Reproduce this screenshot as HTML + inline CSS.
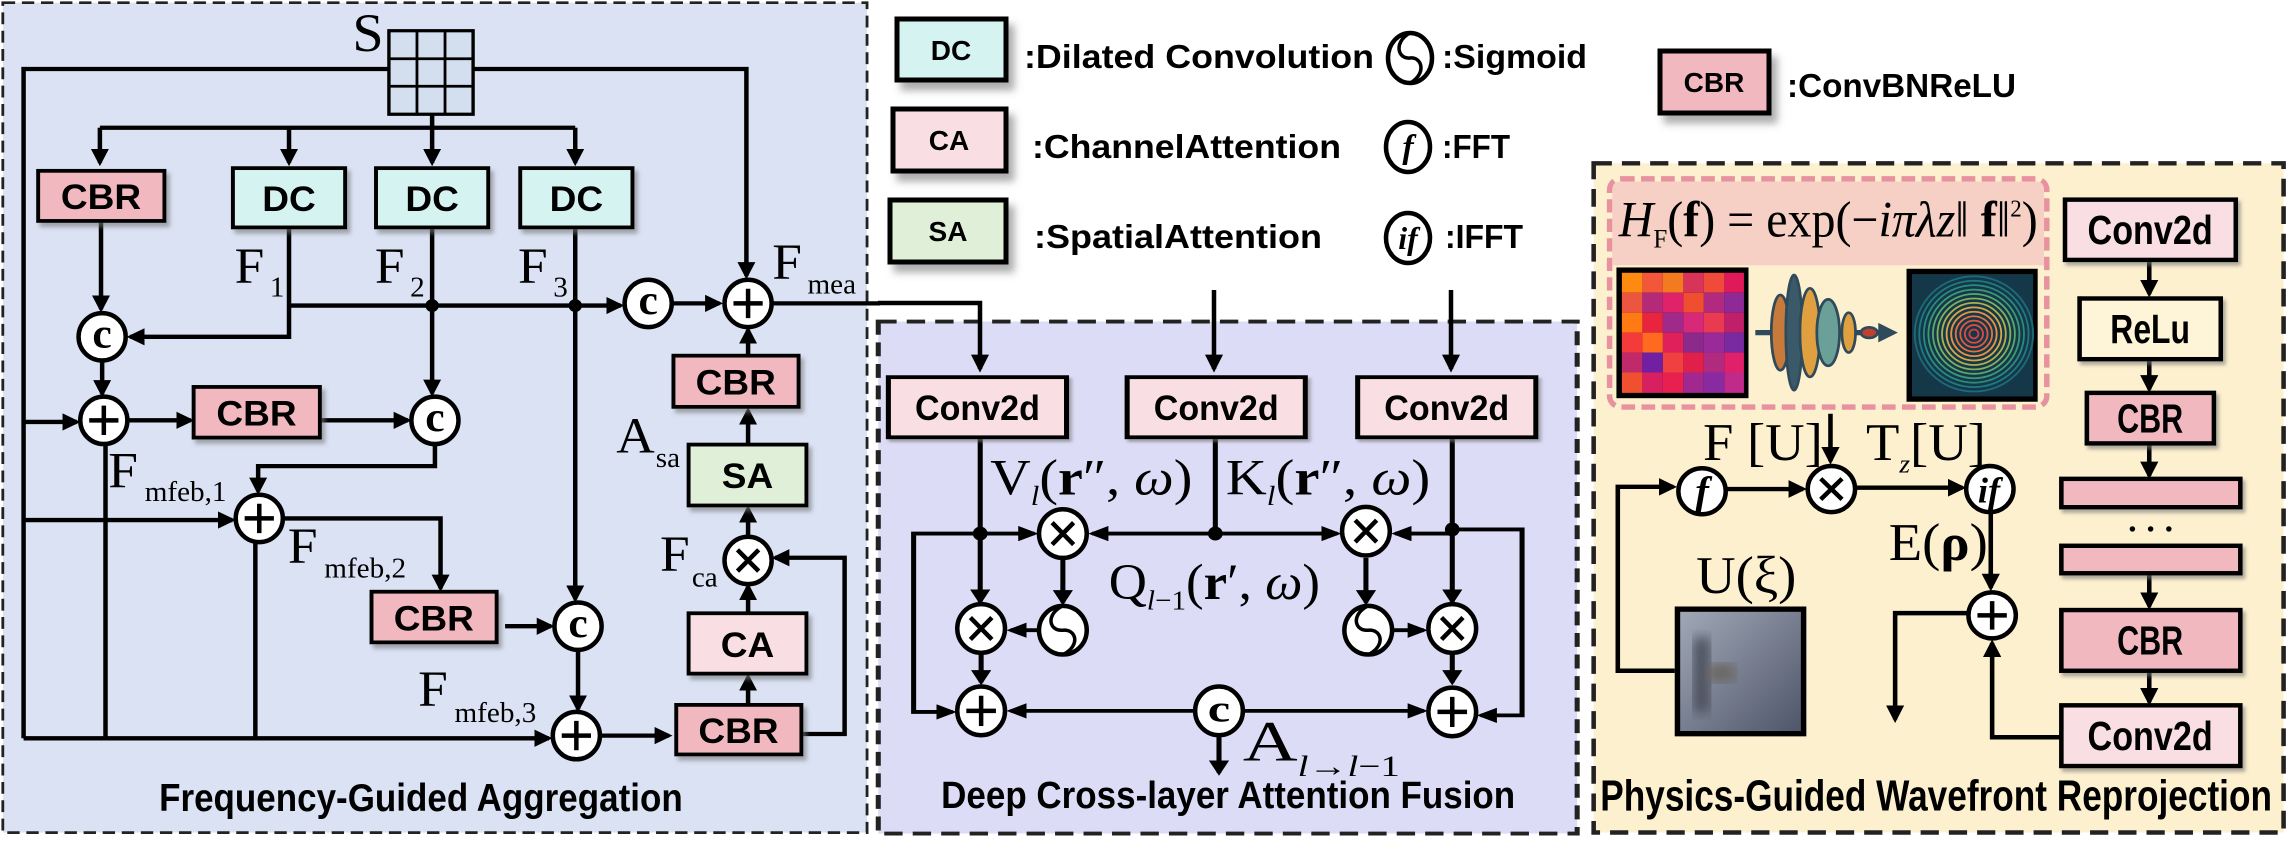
<!DOCTYPE html>
<html><head><meta charset="utf-8"><style>
html,body{margin:0;padding:0;background:#fff;}
svg{display:block;}
.b{font-family:"Liberation Sans",sans-serif;font-weight:bold;}
.s{font-family:"Liberation Serif",serif;}
</style></head><body>
<svg width="2294" height="845" viewBox="0 0 2294 845" xmlns="http://www.w3.org/2000/svg">
<defs>
<marker id="a" viewBox="0 0 10 10" refX="8" refY="5" markerWidth="4" markerHeight="4" orient="auto"><path d="M0,0L10,5L0,10z"/></marker>
<filter id="sh" x="-10%" y="-10%" width="130%" height="140%"><feDropShadow dx="6" dy="8" stdDeviation="4" flood-color="#777" flood-opacity="0.6"/></filter>
<filter id="bl"><feGaussianBlur stdDeviation="14"/></filter>
<g id="C"><circle r="1" fill="#fff" stroke="#000" stroke-width="4.5" vector-effect="non-scaling-stroke"/></g>
<g id="P"><circle r="1" fill="#fff" stroke="#000" stroke-width="4.5" vector-effect="non-scaling-stroke"/><path d="M-.62,0H.62M0,-.62V.62" stroke="#000" stroke-width="4.5" vector-effect="non-scaling-stroke"/></g>
<g id="X"><circle r="1" fill="#fff" stroke="#000" stroke-width="4.5" vector-effect="non-scaling-stroke"/><path d="M-.45,-.45L.45,.45M.45,-.45L-.45,.45" stroke="#000" stroke-width="4.5" vector-effect="non-scaling-stroke"/></g>
<g id="G"><circle r="1" fill="#fff" stroke="#000" stroke-width="4.5" vector-effect="non-scaling-stroke"/><path d="M-0.05,-0.98C-0.75,-0.6 -0.55,0.05 0,0 C0.55,-0.05 0.75,0.6 0.05,0.98" fill="none" stroke="#000" stroke-width="3.5" vector-effect="non-scaling-stroke"/></g>
</defs>

<!-- ================= PANEL 1 ================= -->
<g transform="scale(0.5612,0.5389)">
<rect x="5" y="5" width="1540" height="1540" fill="#dae2f4" stroke="#222" stroke-width="5" stroke-dasharray="22 12"/>
<text class="s" x="628" y="95" font-size="100">S</text>
<rect x="693" y="57" width="150" height="155" fill="#d3deee" stroke="#000" stroke-width="6"/>
<path d="M743,57V212M793,57V212M693,109H843M693,160H843" stroke="#000" stroke-width="5"/>
<g fill="none" stroke="#000" stroke-width="8">
<path d="M693,128H42V1370"/>
<path d="M843,128H1330V512" marker-end="url(#a)"/>
<path d="M770,212V237M178,237H1025"/>
<path d="M178,237V302" marker-end="url(#a)"/>
<path d="M515,237V302" marker-end="url(#a)"/>
<path d="M770,237V302" marker-end="url(#a)"/>
<path d="M1025,237V302" marker-end="url(#a)"/>
<path d="M515,422V625H232" marker-end="url(#a)"/>
<path d="M515,567H1106" marker-end="url(#a)"/>
<path d="M770,422V730" marker-end="url(#a)"/>
<path d="M1025,422V1112" marker-end="url(#a)"/>
<path d="M180,410V574" marker-end="url(#a)"/>
<path d="M182,669V731" marker-end="url(#a)"/>
<path d="M42,783H137" marker-end="url(#a)"/>
<path d="M228,780H340" marker-end="url(#a)"/>
<path d="M570,780H727" marker-end="url(#a)"/>
<path d="M775,824V865H460V912" marker-end="url(#a)"/>
<path d="M188,822V1370"/>
<path d="M42,965H414" marker-end="url(#a)"/>
<path d="M505,962H785V1092" marker-end="url(#a)"/>
<path d="M455,1005V1370"/>
<path d="M42,1370H978" marker-end="url(#a)"/>
<path d="M900,1162H982" marker-end="url(#a)"/>
<path d="M1030,1206V1316" marker-end="url(#a)"/>
<path d="M1070,1365H1192" marker-end="url(#a)"/>
<path d="M1428,1362H1505V1035H1381" marker-end="url(#a)"/>
<path d="M1333,1308V1256" marker-end="url(#a)"/>
<path d="M1333,1138V1088" marker-end="url(#a)"/>
<path d="M1333,995V944" marker-end="url(#a)"/>
<path d="M1333,825V762" marker-end="url(#a)"/>
<path d="M1333,660V612" marker-end="url(#a)"/>
<path d="M1198,563H1282" marker-end="url(#a)"/>
<path d="M1375,563H1568"/>
</g>
<circle cx="770" cy="567" r="12"/><circle cx="1025" cy="567" r="12"/>
<g stroke="#000" stroke-width="7" filter="url(#sh)">
<rect x="68" y="317" width="225" height="93" fill="#f2b8c0"/>
<rect x="415" y="312" width="200" height="110" fill="#d5f3f1"/>
<rect x="670" y="312" width="200" height="110" fill="#d5f3f1"/>
<rect x="927" y="312" width="200" height="110" fill="#d5f3f1"/>
<rect x="345" y="718" width="225" height="94" fill="#f2b8c0"/>
<rect x="662" y="1098" width="223" height="94" fill="#f2b8c0"/>
<rect x="1205" y="1308" width="223" height="92" fill="#f2b8c0"/>
<rect x="1227" y="1138" width="210" height="112" fill="#f9dfe3"/>
<rect x="1227" y="825" width="210" height="113" fill="#e0efd8"/>
<rect x="1200" y="660" width="223" height="95" fill="#f2b8c0"/>
</g>
<g class="b" font-size="66" text-anchor="middle">
<text x="180" y="388">CBR</text>
<text x="515" y="392">DC</text><text x="770" y="392">DC</text><text x="1027" y="392">DC</text>
<text x="457" y="790">CBR</text>
<text x="773" y="1170">CBR</text>
<text x="1316" y="1379">CBR</text>
<text x="1332" y="1219">CA</text>
<text x="1332" y="906">SA</text>
<text x="1311" y="732">CBR</text>
<text x="750" y="1505" font-size="72" textLength="933" lengthAdjust="spacingAndGlyphs">Frequency-Guided Aggregation</text>
</g>
<use href="#C" transform="translate(182,625) scale(42,44)"/>
<use href="#P" transform="translate(185,780) scale(42,44)"/>
<use href="#C" transform="translate(775,780) scale(42,44)"/>
<use href="#P" transform="translate(462,962) scale(42,44)"/>
<use href="#C" transform="translate(1030,1162) scale(42,44)"/>
<use href="#P" transform="translate(1027,1365) scale(42,44)"/>
<use href="#C" transform="translate(1155,563) scale(42,44)"/>
<use href="#P" transform="translate(1333,563) scale(42,44)"/>
<use href="#X" transform="translate(1333,1040) scale(42,44)"/>
<g class="s" font-weight="bold" font-size="78" text-anchor="middle">
<text x="182" y="645">c</text><text x="775" y="800">c</text><text x="1030" y="1182">c</text><text x="1155" y="583">c</text>
</g>
<g class="s" font-size="95">
<text x="418" y="525">F<tspan font-size="52" dx="10" dy="25">1</tspan></text>
<text x="668" y="525">F<tspan font-size="52" dx="10" dy="25">2</tspan></text>
<text x="923" y="525">F<tspan font-size="52" dx="10" dy="25">3</tspan></text>
<text x="1376" y="518">F<tspan font-size="52" dx="10" dy="27">mea</tspan></text>
<text x="193" y="905">F<tspan font-size="52" dx="12" dy="25">mfeb,1</tspan></text>
<text x="513" y="1045">F<tspan font-size="52" dx="12" dy="27">mfeb,2</tspan></text>
<text x="745" y="1310">F<tspan font-size="52" dx="12" dy="30">mfeb,3</tspan></text>
<text x="1098" y="840">A<tspan font-size="52" dx="2" dy="27">sa</tspan></text>
<text x="1176" y="1060">F<tspan font-size="52" dx="4" dy="28">ca</tspan></text>
</g>
</g>

<!-- ================= LEGEND ================= -->
<g stroke="#000" stroke-width="5" filter="url(#sh)">
<rect x="897" y="19" width="109" height="61" fill="#d5f3f1"/>
<rect x="893" y="109" width="113" height="62" fill="#f9dfe3"/>
<rect x="890" y="200" width="116" height="62" fill="#e0efd8"/>
<rect x="1660" y="51" width="109" height="62" fill="#f2b8c0"/>
</g>
<g class="b" font-size="28" text-anchor="middle">
<text x="951" y="60">DC</text><text x="949" y="150">CA</text><text x="948" y="241">SA</text><text x="1714" y="92">CBR</text>
</g>
<g class="b" font-size="33">
<text x="1024" y="68" textLength="350" lengthAdjust="spacingAndGlyphs">:Dilated Convolution</text>
<text x="1032" y="158" textLength="309" lengthAdjust="spacingAndGlyphs">:ChannelAttention</text>
<text x="1034" y="248" textLength="288" lengthAdjust="spacingAndGlyphs">:SpatialAttention</text>
<text x="1442" y="68" textLength="145" lengthAdjust="spacingAndGlyphs">:Sigmoid</text>
<text x="1442" y="158" textLength="68" lengthAdjust="spacingAndGlyphs">:FFT</text>
<text x="1445" y="248" textLength="78" lengthAdjust="spacingAndGlyphs">:IFFT</text>
<text x="1787" y="97" textLength="229" lengthAdjust="spacingAndGlyphs">:ConvBNReLU</text>
</g>
<use href="#G" transform="translate(1410,58) scale(22,25)"/>
<use href="#C" transform="translate(1408,147) scale(22,25)"/>
<use href="#C" transform="translate(1408,238) scale(22,25)"/>
<text class="s" x="1408" y="158" font-size="34" font-style="italic" font-weight="bold" text-anchor="middle">f</text>
<text class="s" x="1408" y="249" font-size="32" font-style="italic" font-weight="bold" text-anchor="middle">if</text>

<!-- ================= PANEL 2 ================= -->
<g transform="translate(870,300) scale(0.4592,0.3476)">
<rect x="18" y="62" width="1522" height="1473" fill="#dcdcf6" stroke="#222" stroke-width="11" stroke-dasharray="40 22"/>
<g fill="none" stroke="#000" stroke-width="11">
<path d="M240,395V868" marker-end="url(#a)"/>
<path d="M240,672H95V1185H180" marker-end="url(#a)"/>
<path d="M240,672H358" marker-end="url(#a)"/>
<path d="M752,395V672"/>
<path d="M752,672H484" marker-end="url(#a)"/>
<path d="M752,672H1018" marker-end="url(#a)"/>
<path d="M1268,395V868" marker-end="url(#a)"/>
<path d="M1268,660H1420V1195H1330" marker-end="url(#a)"/>
<path d="M1268,672H1144" marker-end="url(#a)"/>
<path d="M420,742V870" marker-end="url(#a)"/>
<path d="M368,950H306" marker-end="url(#a)"/>
<path d="M1080,742V870" marker-end="url(#a)"/>
<path d="M1137,950H1206" marker-end="url(#a)"/>
<path d="M242,1015V1100" marker-end="url(#a)"/>
<path d="M1268,1015V1100" marker-end="url(#a)"/>
<path d="M708,1182H306" marker-end="url(#a)"/>
<path d="M812,1182H1206" marker-end="url(#a)"/>
<path d="M760,1252V1360" marker-end="url(#a)"/>
</g>
<ellipse cx="240" cy="672" rx="16" ry="20"/><ellipse cx="752" cy="672" rx="16" ry="20"/><ellipse cx="1268" cy="660" rx="16" ry="20"/>
<g stroke="#000" stroke-width="11" fill="#f9dfe3" filter="url(#sh)">
<rect x="40" y="222" width="388" height="173"/>
<rect x="560" y="222" width="388" height="173"/>
<rect x="1062" y="222" width="388" height="173"/>
</g>
<g class="b" font-size="100" text-anchor="middle">
<text x="234" y="345" textLength="272" lengthAdjust="spacingAndGlyphs">Conv2d</text>
<text x="754" y="345" textLength="272" lengthAdjust="spacingAndGlyphs">Conv2d</text>
<text x="1256" y="345" textLength="272" lengthAdjust="spacingAndGlyphs">Conv2d</text>
<text x="780" y="1462" font-size="108" textLength="1250" lengthAdjust="spacingAndGlyphs">Deep Cross-layer Attention Fusion</text>
</g>
<use href="#X" transform="translate(420,672) scale(52,70)"/>
<use href="#X" transform="translate(1080,665) scale(52,70)"/>
<use href="#G" transform="translate(420,950) scale(52,70)"/>
<use href="#G" transform="translate(1085,950) scale(52,70)"/>
<use href="#X" transform="translate(242,945) scale(52,70)"/>
<use href="#X" transform="translate(1268,945) scale(52,70)"/>
<use href="#P" transform="translate(242,1182) scale(52,70)"/>
<use href="#P" transform="translate(1268,1185) scale(52,70)"/>
<use href="#C" transform="translate(760,1182) scale(52,70)"/>
<text class="s" x="760" y="1212" font-size="110" font-weight="bold" text-anchor="middle">c</text>
<g class="s" font-size="145">
<text x="262" y="560" textLength="440" lengthAdjust="spacingAndGlyphs">V<tspan font-style="italic" font-size="80" dy="30">l</tspan><tspan dy="-30">(</tspan><tspan font-weight="bold">r</tspan>″, <tspan font-style="italic">ω</tspan>)</text>
<text x="775" y="560" textLength="445" lengthAdjust="spacingAndGlyphs">K<tspan font-style="italic" font-size="80" dy="30">l</tspan><tspan dy="-30">(</tspan><tspan font-weight="bold">r</tspan>″, <tspan font-style="italic">ω</tspan>)</text>
<text x="520" y="860" textLength="460" lengthAdjust="spacingAndGlyphs">Q<tspan font-style="italic" font-size="80" dy="30">l</tspan><tspan font-size="80">−1</tspan><tspan dy="-30">(</tspan><tspan font-weight="bold">r</tspan>′, <tspan font-style="italic">ω</tspan>)</text>
<text x="812" y="1325" font-size="165">A<tspan font-size="85" dy="45" font-style="italic">l</tspan><tspan font-size="85">→</tspan><tspan font-size="85" font-style="italic">l</tspan><tspan font-size="85">−1</tspan></text>
</g>
</g>

<!-- connectors between panels (drawn after panel 2) -->
<g fill="none" stroke="#000" stroke-width="4.5">
<path d="M878,303H980V369" marker-end="url(#a)"/>
<path d="M1214,290V369" marker-end="url(#a)"/>
<path d="M1451,290V369" marker-end="url(#a)"/>
</g>

<!-- ================= PANEL 3 ================= -->
<g transform="translate(1580,150) scale(0.4554,0.4432)">
<rect x="30" y="30" width="1515" height="1510" fill="#fdf0cf" stroke="#222" stroke-width="10" stroke-dasharray="40 22"/>
<rect x="65" y="65" width="960" height="515" rx="25" fill="#fdf0cf" stroke="#e8919f" stroke-width="12" stroke-dasharray="30 14"/>
<path d="M71,90Q71,71 90,71H1000Q1019,71 1019,90V260H71Z" fill="#f6d0c4"/>
<text class="s" x="85" y="195" font-size="115" textLength="920" lengthAdjust="spacingAndGlyphs"><tspan font-style="italic">H</tspan><tspan font-size="60" dy="25">F</tspan><tspan dy="-25">(</tspan><tspan font-weight="bold">f</tspan>) = exp(−<tspan font-style="italic">iπλz</tspan>‖ <tspan font-weight="bold">f</tspan>‖<tspan font-size="55" dy="-45">2</tspan><tspan dy="45">)</tspan></text>
<rect x="80" y="265" width="290" height="295" fill="#000"/>
<g>
<rect x="92" y="277" width="45" height="45" fill="#ff8a12"/><rect x="137" y="277" width="45" height="45" fill="#f2573a"/><rect x="182" y="277" width="45" height="45" fill="#f47a20"/><rect x="227" y="277" width="45" height="45" fill="#d8345a"/><rect x="272" y="277" width="45" height="45" fill="#ef4a3a"/><rect x="317" y="277" width="43" height="45" fill="#e01a5a"/>
<rect x="92" y="322" width="45" height="45" fill="#ec5540"/><rect x="137" y="322" width="45" height="45" fill="#b52a78"/><rect x="182" y="322" width="45" height="45" fill="#e0226a"/><rect x="227" y="322" width="45" height="45" fill="#ef4e30"/><rect x="272" y="322" width="45" height="45" fill="#b22a80"/><rect x="317" y="322" width="43" height="45" fill="#8e2a98"/>
<rect x="92" y="367" width="45" height="45" fill="#ff7a12"/><rect x="137" y="367" width="45" height="45" fill="#e8243e"/><rect x="182" y="367" width="45" height="45" fill="#a02a8a"/><rect x="227" y="367" width="45" height="45" fill="#d8287a"/><rect x="272" y="367" width="45" height="45" fill="#ea3a52"/><rect x="317" y="367" width="43" height="45" fill="#c0206a"/>
<rect x="92" y="412" width="45" height="45" fill="#f43a3a"/><rect x="137" y="412" width="45" height="45" fill="#ff6a20"/><rect x="182" y="412" width="45" height="45" fill="#e0205a"/><rect x="227" y="412" width="45" height="45" fill="#8c2a8c"/><rect x="272" y="412" width="45" height="45" fill="#9a2a9a"/><rect x="317" y="412" width="43" height="45" fill="#7a2aa0"/>
<rect x="92" y="457" width="45" height="45" fill="#c02a6a"/><rect x="137" y="457" width="45" height="45" fill="#7020a0"/><rect x="182" y="457" width="45" height="45" fill="#f04040"/><rect x="227" y="457" width="45" height="45" fill="#e0204a"/><rect x="272" y="457" width="45" height="45" fill="#b02a80"/><rect x="317" y="457" width="43" height="45" fill="#e0206a"/>
<rect x="92" y="502" width="45" height="46" fill="#f05030"/><rect x="137" y="502" width="45" height="46" fill="#d82060"/><rect x="182" y="502" width="45" height="46" fill="#e82050"/><rect x="227" y="502" width="45" height="46" fill="#a02890"/><rect x="272" y="502" width="45" height="46" fill="#8a2aa0"/><rect x="317" y="502" width="43" height="46" fill="#c02a8a"/>
</g>
<g stroke="#2f4a5a" stroke-width="6">
<path d="M385,412H660" stroke-width="12"/>
<ellipse cx="440" cy="412" rx="20" ry="85" fill="#c77a3a"/>
<ellipse cx="470" cy="412" rx="18" ry="130" fill="#3a5a6a"/>
<ellipse cx="505" cy="412" rx="22" ry="100" fill="#e0a040"/>
<ellipse cx="545" cy="412" rx="25" ry="75" fill="#6aa098"/>
<ellipse cx="590" cy="412" rx="15" ry="45" fill="#e0a040"/>
<ellipse cx="635" cy="412" rx="18" ry="12" fill="#c04030"/>
</g>
<path d="M655,390L698,412L655,434Z" fill="#2f4a5a"/>
<rect x="717" y="268" width="288" height="300" fill="#000"/>
<rect x="729" y="280" width="266" height="276" fill="#153848"/>
<g fill="none" stroke-width="4">
<circle cx="865" cy="415" r="130" stroke="#1d6a7a"/><circle cx="865" cy="415" r="120" stroke="#1f7a80"/><circle cx="865" cy="415" r="110" stroke="#2a8a80"/><circle cx="865" cy="415" r="100" stroke="#3a9a78"/><circle cx="865" cy="415" r="90" stroke="#5aa870"/><circle cx="865" cy="415" r="80" stroke="#80b060"/><circle cx="865" cy="415" r="70" stroke="#b0b050"/><circle cx="865" cy="415" r="60" stroke="#d8a848"/><circle cx="865" cy="415" r="50" stroke="#e89040"/><circle cx="865" cy="415" r="40" stroke="#e87040"/><circle cx="865" cy="415" r="30" stroke="#e05a40"/><circle cx="865" cy="415" r="20" stroke="#e04a40"/><circle cx="865" cy="415" r="10" stroke="#d84040"/>
</g>
<defs><linearGradient id="ug" x1="0" y1="0" x2="1" y2="1"><stop offset="0" stop-color="#a0a8b6"/><stop offset="1" stop-color="#50566a"/></linearGradient>
<clipPath id="uc"><rect x="220" y="1042" width="265" height="269"/></clipPath></defs>
<rect x="208" y="1030" width="289" height="293" fill="#000"/>
<rect x="220" y="1042" width="265" height="269" fill="url(#ug)"/>
<g clip-path="url(#uc)"><rect x="250" y="1100" width="35" height="170" fill="#4a4e5a" filter="url(#bl)"/><rect x="280" y="1160" width="60" height="40" fill="#6a6660" filter="url(#bl)"/></g>
<g fill="none" stroke="#000" stroke-width="10">
<path d="M550,595V702" marker-end="url(#a)"/>
<path d="M208,1175H83V760H205" marker-end="url(#a)"/>
<path d="M320,765H490" marker-end="url(#a)"/>
<path d="M604,762H840" marker-end="url(#a)"/>
<path d="M902,817V988" marker-end="url(#a)"/>
<path d="M1057,1325H905V1112" marker-end="url(#a)"/>
<path d="M853,1045H692V1285" marker-end="url(#a)"/>
<path d="M1250,248V325" marker-end="url(#a)"/>
<path d="M1250,472V540" marker-end="url(#a)"/>
<path d="M1250,662V735" marker-end="url(#a)"/>
<path d="M1250,955V1030" marker-end="url(#a)"/>
<path d="M1250,1175V1246" marker-end="url(#a)"/>
</g>
<g stroke="#000" stroke-width="10" filter="url(#sh)">
<rect x="1065" y="112" width="375" height="136" fill="#f9dfe3"/>
<rect x="1097" y="335" width="310" height="137" fill="#fef5d8"/>
<rect x="1113" y="548" width="279" height="114" fill="#f2b8c0"/>
<rect x="1057" y="742" width="393" height="64" fill="#f2b8c0"/>
<rect x="1057" y="893" width="393" height="62" fill="#f2b8c0"/>
<rect x="1057" y="1038" width="393" height="137" fill="#f2b8c0"/>
<rect x="1057" y="1253" width="393" height="137" fill="#f9dfe3"/>
</g>
<g class="b" font-size="92" text-anchor="middle">
<text x="1252" y="212" textLength="275" lengthAdjust="spacingAndGlyphs">Conv2d</text>
<text x="1252" y="435" textLength="175" lengthAdjust="spacingAndGlyphs">ReLu</text>
<text x="1252" y="637" textLength="145" lengthAdjust="spacingAndGlyphs">CBR</text>
<text x="1252" y="1138" textLength="145" lengthAdjust="spacingAndGlyphs">CBR</text>
<text x="1252" y="1354" textLength="275" lengthAdjust="spacingAndGlyphs">Conv2d</text>
<text x="782" y="1490" font-size="98" textLength="1475" lengthAdjust="spacingAndGlyphs">Physics-Guided Wavefront Reprojection</text>
</g>
<g fill="#000"><circle cx="1213" cy="855" r="6"/><circle cx="1253" cy="855" r="6"/><circle cx="1293" cy="855" r="6"/></g>
<use href="#C" transform="translate(268,770) scale(52,52)"/>
<use href="#X" transform="translate(552,765) scale(52,52)"/>
<use href="#C" transform="translate(900,765) scale(52,52)"/>
<use href="#P" transform="translate(905,1050) scale(52,52)"/>
<text class="s" x="268" y="800" font-size="90" font-style="italic" font-weight="bold" text-anchor="middle">f</text>
<text class="s" x="898" y="795" font-size="80" font-style="italic" font-weight="bold" text-anchor="middle">if</text>
<g class="s" font-size="120">
<text x="270" y="700">F [U]</text>
<text x="628" y="700">T<tspan font-size="60" font-style="italic" dy="28">z</tspan><tspan dy="-28">[U]</tspan></text>
<text x="678" y="925">E(<tspan font-weight="bold">ρ</tspan>)</text>
<text x="255" y="1000">U(ξ)</text>
</g>
</g>
</svg>
</body></html>
